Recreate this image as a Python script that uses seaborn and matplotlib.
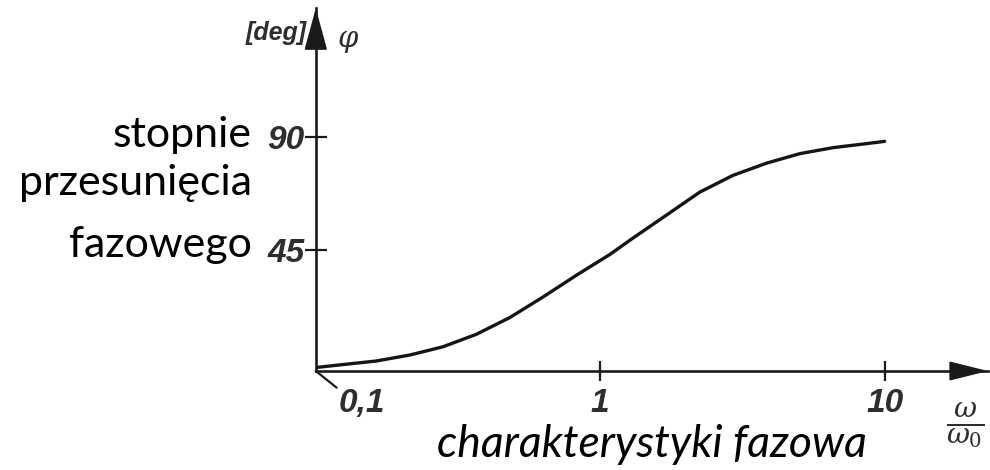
import matplotlib
matplotlib.use("Agg")
import matplotlib.pyplot as plt
import matplotlib.transforms as mtransforms
import seaborn as sns

# Phase characteristic (omega / omega0, degrees)
omega_ratio = [0.1, 0.125, 0.163, 0.214, 0.280, 0.367, 0.481, 0.629, 0.824, 1.08,
               1.30, 1.71, 2.24, 2.93, 3.85, 5.04, 6.60, 8.65, 10.0]
phase_deg = [-2.2, -1.0, 0.4, 2.8, 6.1, 11.1, 17.8, 26.0, 34.7, 43.0,
             49.5, 58.8, 68.0, 74.7, 79.6, 83.4, 85.8, 87.4, 88.3]

x_ticks = [0.1, 1, 10]
x_tick_labels = ["0,1", "1", "10"]
y_ticks = [45, 90]
y_tick_labels = ["45", "90"]
side_lines = ["stopnie", "przesunięcia", "fazowego"]
side_line_y = [85.9, 66.7, 41.9]

sns.set_theme(style="white")
plt.rcParams["font.family"] = ["Lato", "DejaVu Sans"]
plt.rcParams["mathtext.fontset"] = "dejavuserif"

fig = plt.figure(figsize=(9.9, 4.7), dpi=100)
ax = fig.add_axes([0.319, 0.2106, 0.679, 0.772])

sns.lineplot(x=omega_ratio, y=phase_deg, ax=ax, color="#151515", linewidth=2.4)

ax.set_xscale("log")
ax.set_xlim(0.1, 23.1)
ax.set_ylim(-3.6, 141.6)

# axes drawn as arrows
for side in ["top", "right"]:
    ax.spines[side].set_visible(False)
for side in ["left", "bottom"]:
    ax.spines[side].set_linewidth(1.9)
    ax.spines[side].set_color("#1a1a1a")

ax.annotate("", xy=(0, 1.0), xytext=(0, 0.97), xycoords="axes fraction",
            arrowprops=dict(arrowstyle="-|>,head_length=2.2,head_width=0.6",
                            color="#1a1a1a", lw=1.5, shrinkA=0, shrinkB=0),
            annotation_clip=False)
ax.annotate("", xy=(1.0, 0), xytext=(0.98, 0), xycoords="axes fraction",
            arrowprops=dict(arrowstyle="-|>,head_length=2.0,head_width=0.5",
                            color="#1a1a1a", lw=1.5, shrinkA=0, shrinkB=0),
            annotation_clip=False)
# small slanted mark at the origin
ax.annotate("", xy=(0, 0), xycoords="axes fraction", xytext=(15, -12),
            textcoords="offset points",
            arrowprops=dict(arrowstyle="-", color="#1a1a1a", lw=1.6,
                            shrinkA=0, shrinkB=0),
            annotation_clip=False)

ax.set_xticks(x_ticks)
ax.set_xticklabels(x_tick_labels)
ax.xaxis.set_minor_locator(matplotlib.ticker.NullLocator())
ax.set_yticks(y_ticks)
ax.set_yticklabels(y_tick_labels)
ax.tick_params(axis="x", direction="inout", length=15, width=1.6, pad=5,
               color="#1a1a1a", bottom=True, labelcolor="#2e2e2e")
ax.tick_params(axis="y", direction="inout", length=16, width=1.6, pad=0,
               color="#1a1a1a", left=True, labelcolor="#2e2e2e")
ax.xaxis.get_major_ticks()[0].tick1line.set_visible(False)
for lab in ax.get_xticklabels() + ax.get_yticklabels():
    lab.set_fontfamily("Liberation Sans")
    lab.set_fontweight("bold")
    lab.set_fontstyle("italic")
    lab.set_fontsize(24)
shift = mtransforms.ScaledTranslation(0.46, 0, fig.dpi_scale_trans)
first = ax.get_xticklabels()[0]
first.set_transform(first.get_transform() + shift)

ax.set_xlabel("charakterystyki fazowa", fontsize=32, fontstyle="italic",
              color="black", labelpad=3)

side_tr = ax.get_yaxis_transform()
for txt, yy in zip(side_lines, side_line_y):
    ax.text(-0.095, yy, txt, transform=side_tr, ha="right", va="baseline",
            fontsize=31, color="black")

ax.text(-0.0134, 0.931, "[deg]", transform=ax.transAxes, ha="right", va="center",
        family="Liberation Sans", weight="bold", style="italic", size=18,
        color="#2e2e2e")
ax.text(0.033, 0.915, "φ", transform=ax.transAxes, ha="left", va="center",
        family="DejaVu Serif", style="italic", size=21, color="#2e2e2e")
ax.text(0.966, -0.152, r"$\frac{\omega}{\omega_0}$", transform=ax.transAxes,
        ha="center", va="center", size=29, color="#2e2e2e")

fig.savefig("out.png", dpi=100)
